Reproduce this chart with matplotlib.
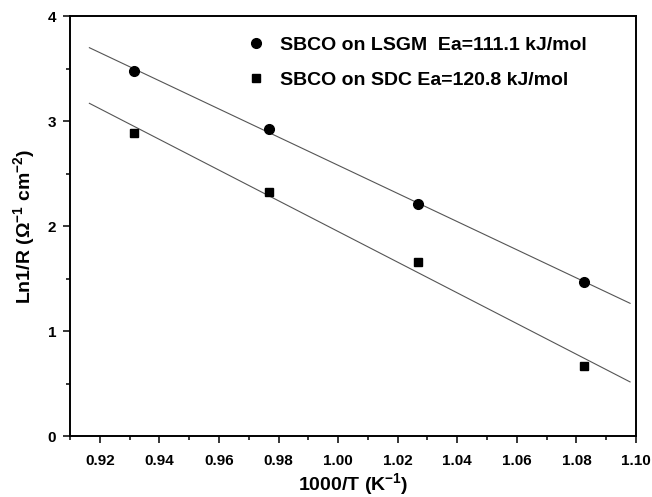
import numpy as np
import matplotlib
matplotlib.use('Agg')
import matplotlib.pyplot as plt
from matplotlib.ticker import MultipleLocator

plt.rcParams['font.family'] = ['Liberation Sans', 'DejaVu Sans']
plt.rcParams['font.weight'] = 'bold'
plt.rcParams['mathtext.fontset'] = 'custom'
plt.rcParams['mathtext.rm'] = 'Liberation Sans:bold'
plt.rcParams['mathtext.it'] = 'Liberation Sans:bold'
plt.rcParams['mathtext.bf'] = 'Liberation Sans:bold'
plt.rcParams['mathtext.default'] = 'rm'

# data
x_lsgm = [0.9315, 0.9768, 1.0268, 1.0825]
y_lsgm = [3.476, 2.924, 2.210, 1.467]
x_sdc = [0.9315, 0.9768, 1.0268, 1.0825]
y_sdc = [2.886, 2.324, 1.657, 0.667]
lab_lsgm = 'SBCO on LSGM  Ea=111.1 kJ/mol'
lab_sdc = 'SBCO on SDC Ea=120.8 kJ/mol'
fit_range = [0.9165, 1.098]

fig = plt.figure(figsize=(6.52, 4.97), dpi=100)
ax = fig.add_axes([0.1074, 0.1227, 0.8681, 0.8451])

# linear fits
xf = np.array(fit_range)
p1 = np.polyfit(x_lsgm, y_lsgm, 1)
p2 = np.polyfit(x_sdc, y_sdc, 1)
ax.plot(xf, np.polyval(p1, xf), '-', color='#555555', lw=0.8)
ax.plot(xf, np.polyval(p2, xf), '-', color='#555555', lw=0.8)

ax.plot(x_lsgm, y_lsgm, 'o', color='black', ms=7, label=lab_lsgm)
ax.plot(x_sdc, y_sdc, 's', color='black', ms=6, label=lab_sdc)

ax.set_xlim(0.91, 1.10)
ax.set_ylim(0, 4)
ax.xaxis.set_major_locator(MultipleLocator(0.02))
ax.xaxis.set_minor_locator(MultipleLocator(0.01))
ax.yaxis.set_major_locator(MultipleLocator(1))
ax.yaxis.set_minor_locator(MultipleLocator(0.5))
ax.xaxis.set_major_formatter(matplotlib.ticker.FormatStrFormatter('%.2f'))

for s in ax.spines.values():
    s.set_linewidth(1.4)
ax.tick_params(which='major', direction='out', length=5, width=1.1, labelsize=11)
ax.tick_params(which='minor', direction='out', length=3, width=1.1)
ax.tick_params(axis='x', which='major', pad=8)
ax.tick_params(axis='y', which='major', pad=5)

ax.set_xlabel('1000/T (K$^{-1}$)', fontsize=14, fontweight='bold', labelpad=2)
ax.set_ylabel('Ln1/R (\u03a9$^{-1}$ cm$^{-2}$)', fontsize=14, fontweight='bold', labelpad=8)

ax.legend(loc='upper left', bbox_to_anchor=(0.295, 0.975), frameon=False,
          borderpad=0, handlelength=1.0, handletextpad=0.69, labelspacing=0.89,
          prop={'size': 14, 'weight': 'bold'})

plt.savefig('out.png', dpi=100)
